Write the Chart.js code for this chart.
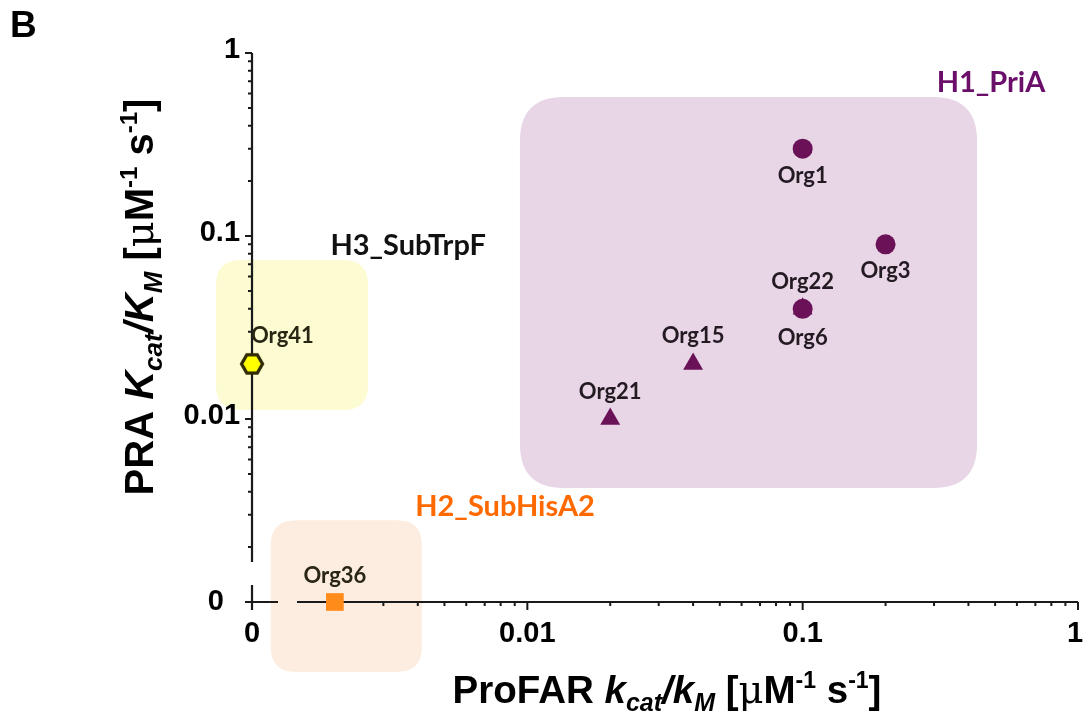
<!DOCTYPE html>
<html>
<head>
<meta charset="utf-8">
<script src="https://cdn.jsdelivr.net/npm/chart.js@4/dist/chart.umd.min.js"></script>
<style>
  html, body { margin: 0; padding: 0; background: #fff; }
  canvas { display: block; }
</style>
</head>
<body>
<canvas id="chart" width="1086" height="721"></canvas>
<script>
// --- data (ProFAR kcat/KM on x, PRA kcat/KM on y; 0.001 is shown as "0") ---
const circleNames = ['Org1', 'Org3', 'Org22'];
const circleX = [0.1, 0.2, 0.1];
const circleY = [0.3, 0.09, 0.04];

const triangleNames = ['Org6', 'Org15', 'Org21'];
const triangleX = [0.1, 0.04, 0.02];
const triangleY = [0.04, 0.02, 0.01];

const subTrpFNames = ['Org41'];
const subTrpFX = [0.001];
const subTrpFY = [0.02];

const subHisA2Names = ['Org36'];
const subHisA2X = [0.002];
const subHisA2Y = [0.001];

// group boxes: [xMin, xMax, yMin, yMax]
const groupNames = ['H1_PriA', 'H3_SubTrpF', 'H2_SubHisA2'];
const groupBoxes = [
  [0.0094, 0.43, 0.0042, 0.575],
  [0.00074, 0.00264, 0.0112, 0.074],
  [0.00117, 0.00414, 0.000414, 0.0028]
];
// where each group name sits (x, y)
const groupLabelAt = [[0.483, 0.686], [0.00369, 0.0882], [0.0083, 0.0033]];

const xTickValues = [0.001, 0.01, 0.1, 1];
const xTickLabels = ['0', '0.01', '0.1', '1'];
const yTickValues = [0.001, 0.01, 0.1, 1];
const yTickLabels = ['0', '0.01', '0.1', '1'];

const PURPLE = '#6a1158';
const boxFill = ['#e8d6e7', '#fdfbd2', '#fdede0'];
const groupColor = ['#6b0f6b', '#111111', '#ff6a00'];
const AXIS = '#1a1a1a';

function pts(xs, ys) { return xs.map((x, i) => ({ x: x, y: ys[i] })); }

// hexagon marker for Org41
function hexagon() {
  const c = document.createElement('canvas');
  c.width = 26; c.height = 24;
  const g = c.getContext('2d');
  const R = 10.5, cx = 13, cy = 12;
  g.beginPath();
  for (let k = 0; k < 6; k++) {
    const a = k * Math.PI / 3;
    const px = cx + R * Math.cos(a), py = cy + R * Math.sin(a);
    k ? g.lineTo(px, py) : g.moveTo(px, py);
  }
  g.closePath();
  g.fillStyle = '#ffff00';
  g.fill();
  g.lineWidth = 3.2;
  g.strokeStyle = '#2e2a05';
  g.stroke();
  return c;
}

function roundRect(ctx, x0, y0, x1, y1, r) {
  ctx.beginPath();
  ctx.moveTo(x0 + r, y0);
  ctx.lineTo(x1 - r, y0);
  ctx.quadraticCurveTo(x1, y0, x1, y0 + r);
  ctx.lineTo(x1, y1 - r);
  ctx.quadraticCurveTo(x1, y1, x1 - r, y1);
  ctx.lineTo(x0 + r, y1);
  ctx.quadraticCurveTo(x0, y1, x0, y1 - r);
  ctx.lineTo(x0, y0 + r);
  ctx.quadraticCurveTo(x0, y0, x0 + r, y0);
  ctx.closePath();
}

// draws text made of pieces with own font and vertical shift
function richText(ctx, parts, x, y) {
  let w = 0;
  parts.forEach(p => { ctx.font = p.f; w += ctx.measureText(p.t).width; });
  let cx = x - w / 2;
  ctx.textAlign = 'left';
  ctx.textBaseline = 'alphabetic';
  parts.forEach(p => {
    ctx.font = p.f;
    ctx.fillText(p.t, cx, y + (p.dy || 0));
    cx += ctx.measureText(p.t).width;
  });
}

function titleParts(size, name, k) {
  const fam = '"Liberation Sans", Arial, sans-serif';
  const B = 'bold ' + size + 'px ' + fam;
  const BI = 'italic bold ' + size + 'px ' + fam;
  const SUBI = 'italic bold ' + Math.round(size * 0.66) + 'px ' + fam;
  const SUP = 'bold ' + Math.round(size * 0.6) + 'px ' + fam;
  const MU = size + 'px "DejaVu Serif", serif';
  const sub = Math.round(size * 0.22), sup = -Math.round(size * 0.4);
  return [
    { t: name + ' ', f: B }, { t: k, f: BI }, { t: 'cat', f: SUBI, dy: sub },
    { t: '/', f: BI }, { t: k, f: BI }, { t: 'M', f: SUBI, dy: sub },
    { t: ' [', f: B }, { t: 'μ', f: MU }, { t: 'M', f: B }, { t: '-1', f: SUP, dy: sup },
    { t: ' s', f: B }, { t: '-1', f: SUP, dy: sup }, { t: ']', f: B }
  ];
}
const xTitle = titleParts(38.5, 'ProFAR', 'k');
const yTitle = titleParts(40, 'PRA', 'K');

const decorPlugin = {
  id: 'decor',
  beforeDatasetsDraw(chart) {
    const ctx = chart.ctx, xs = chart.scales.x, ys = chart.scales.y;
    ctx.save();
    // group boxes
    groupBoxes.forEach((b, i) => {
      const x0 = xs.getPixelForValue(b[0]), x1 = xs.getPixelForValue(b[1]);
      const y0 = ys.getPixelForValue(b[3]), y1 = ys.getPixelForValue(b[2]);
      roundRect(ctx, x0, y0, x1, y1, i === 0 ? 44 : 25);
      ctx.fillStyle = boxFill[i];
      ctx.fill();
    });

    // axes with a break near the origin
    const ox = xs.getPixelForValue(xTickValues[0]);
    const oy = ys.getPixelForValue(yTickValues[0]);
    const xEnd = xs.getPixelForValue(xTickValues[xTickValues.length - 1]);
    const yEnd = ys.getPixelForValue(yTickValues[yTickValues.length - 1]);
    ctx.strokeStyle = AXIS;
    ctx.lineWidth = 2.2;
    ctx.beginPath();
    ctx.moveTo(ox, yEnd); ctx.lineTo(ox, oy - 40);
    ctx.moveTo(ox, oy - 17); ctx.lineTo(ox, oy + 8);
    ctx.moveTo(ox - 7, oy); ctx.lineTo(ox + 26, oy);
    ctx.moveTo(ox + 45, oy); ctx.lineTo(xEnd, oy);
    ctx.stroke();

    ctx.lineWidth = 2;
    ctx.beginPath();
    // y ticks point left, x ticks point down
    yTickValues.forEach((v, i) => {
      if (i === 0) return;
      const y = ys.getPixelForValue(v);
      ctx.moveTo(ox, y); ctx.lineTo(ox - 7, y);
    });
    xTickValues.forEach((v, i) => {
      if (i === 0) return;
      const x = xs.getPixelForValue(v);
      ctx.moveTo(x, oy); ctx.lineTo(x, oy + 8);
    });
    for (let d = 0; d < yTickValues.length - 1; d++) {
      for (let m = 2; m <= 9; m++) {
        const y = ys.getPixelForValue(yTickValues[d] * m);
        if (y < oy - 40) { ctx.moveTo(ox, y); ctx.lineTo(ox - 4, y); }
        const x = xs.getPixelForValue(xTickValues[d] * m);
        if (x > ox + 45) { ctx.moveTo(x, oy); ctx.lineTo(x, oy + 4); }
      }
    }
    ctx.stroke();
    ctx.restore();
  },
  afterDatasetsDraw(chart) {
    const ctx = chart.ctx, xs = chart.scales.x, ys = chart.scales.y;
    ctx.save();
    const ox = xs.getPixelForValue(xTickValues[0]);
    const oy = ys.getPixelForValue(yTickValues[0]);

    // tick labels
    ctx.fillStyle = '#000';
    ctx.font = 'bold 29px "Liberation Sans", Arial, sans-serif';
    ctx.textBaseline = 'middle';
    ctx.textAlign = 'right';
    yTickLabels.forEach((t, i) => {
      const y = ys.getPixelForValue(yTickValues[i]);
      ctx.fillText(t, i === 0 ? 224 : ox - 12, i === 0 ? y : y - 3);
    });
    ctx.textAlign = 'center';
    xTickLabels.forEach((t, i) => {
      const x = xs.getPixelForValue(xTickValues[i]);
      ctx.fillText(t, i === xTickLabels.length - 1 ? x - 3 : x, oy + 32);
    });

    // axis titles
    ctx.fillStyle = '#000';
    richText(ctx, xTitle, 667, 703);
    ctx.save();
    ctx.translate(153, 297);
    ctx.rotate(-Math.PI / 2);
    richText(ctx, yTitle, 0, 0);
    ctx.restore();

    // panel letter
    ctx.font = 'bold 37px "Liberation Sans", Arial, sans-serif';
    ctx.textAlign = 'left';
    ctx.textBaseline = 'alphabetic';
    ctx.fillText('B', 10, 37);

    // group names
    ctx.font = 'bold 29px Lato, "Open Sans", sans-serif';
    ctx.textAlign = 'center';
    ctx.textBaseline = 'middle';
    groupNames.forEach((n, i) => {
      ctx.fillStyle = groupColor[i];
      ctx.fillText(n, xs.getPixelForValue(groupLabelAt[i][0]), ys.getPixelForValue(groupLabelAt[i][1]));
    });

    // point names
    ctx.font = 'bold 22px Lato, "Open Sans", sans-serif';
    const label = (names, xv, yv, dy, color, align) => {
      names.forEach((n, i) => {
        const x = xs.getPixelForValue(xv[i]), y = ys.getPixelForValue(yv[i]);
        ctx.fillStyle = color;
        ctx.textAlign = align || 'center';
        ctx.fillText(n, align === 'left' ? x - 1 : x, y + dy[i]);
      });
    };
    label(circleNames, circleX, circleY, [27, 27, -27], '#231a22');
    label(triangleNames, triangleX, triangleY, [29, -28, -27], '#231a22');
    label(subTrpFNames, subTrpFX, subTrpFY, [-28], '#2a2614', 'left');
    label(subHisA2Names, subHisA2X, subHisA2Y, [-26], '#2a2614');
    ctx.restore();
  }
};

new Chart(document.getElementById('chart'), {
  type: 'scatter',
  data: {
    datasets: [
      { label: 'H1_PriA circles', data: pts(circleX, circleY), pointStyle: 'circle', pointRadius: 10,
        backgroundColor: PURPLE, borderColor: PURPLE, borderWidth: 0 },
      { label: 'H1_PriA triangles', data: pts(triangleX, triangleY), pointStyle: 'triangle', pointRadius: 11.5,
        backgroundColor: PURPLE, borderColor: PURPLE, borderWidth: 0 },
      { label: 'H3_SubTrpF', data: pts(subTrpFX, subTrpFY), pointStyle: hexagon(), pointRadius: 11 },
      { label: 'H2_SubHisA2', data: pts(subHisA2X, subHisA2Y), pointStyle: 'rect', pointRadius: 12.5,
        backgroundColor: '#ff8c1a', borderColor: '#ff8c1a', borderWidth: 0 }
    ]
  },
  options: {
    responsive: false,
    animation: false,
    devicePixelRatio: 1,
    layout: { padding: 0, autoPadding: false },
    plugins: { legend: { display: false }, tooltip: { enabled: false } },
    scales: {
      // 0.001 sits at x=252 and 1 at x=1078; 0.001 at y=602 and 1 at y=53
      x: { type: 'logarithmic', display: false, bounds: 'data',
           min: Math.pow(10, -3.9153), max: Math.pow(10, 0.02906) },
      y: { type: 'logarithmic', display: false, bounds: 'data',
           min: Math.pow(10, -3.6503), max: Math.pow(10, 0.2896) }
    }
  },
  plugins: [decorPlugin]
});
</script>
</body>
</html>
